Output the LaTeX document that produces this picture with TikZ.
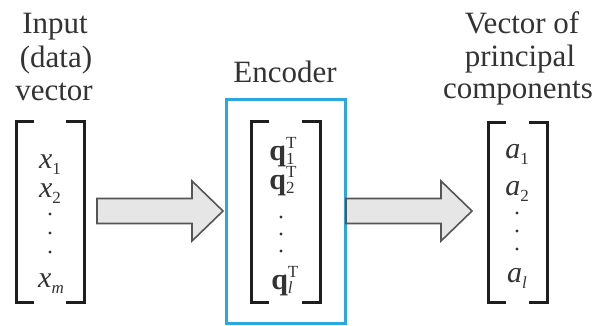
\documentclass[tikz,border=0pt]{standalone}
\usepackage{fontspec}
\setmainfont{Liberation Serif}
\usetikzlibrary{calc}
\definecolor{inkgray}{HTML}{333333}
\definecolor{bracketink}{HTML}{1E1E1E}
\definecolor{encblue}{HTML}{2BA8DE}
\definecolor{arrowfill}{HTML}{E6E6E6}
\definecolor{arrowline}{HTML}{555555}
\tikzset{
  lbl/.style={anchor=base, inner sep=0pt, text=inkgray,
    font=\fontsize{31}{34}\selectfont},
  entry/.style={anchor=base, inner sep=0pt, text=inkgray,
    font=\fontsize{30}{34}\selectfont},
  bracketline/.style={draw=bracketink, line width=3pt, line join=miter},
  vdot/.style={fill=inkgray, draw=none},
  blockarrow/.style={fill=arrowfill, draw=arrowline, line width=1.6pt, line join=miter},
  encbox/.style={draw=encblue, line width=3pt}
}
% small script text
\newcommand{\scr}[1]{{\fontsize{17}{17}\selectfont #1}}
% subscript only
\newcommand{\lowidx}[1]{\raisebox{-6pt}{\scr{#1}}}
% stacked superscript T over a subscript
\newcommand{\tidx}[1]{\makebox[0pt][l]{\raisebox{12pt}{\scr{T}}}\raisebox{-4pt}{\scr{#1}}\hspace{4pt}}
% column vector bracket: #1 left x, #2 right x, #3 top y, #4 bottom y
\newcommand{\colbrackets}[4]{%
  \draw[bracketline] ($(#1,#3)+(18,0)$) -- (#1,#3) -- (#1,#4) -- ($(#1,#4)+(18,0)$);
  \draw[bracketline] ($(#2,#3)+(-18,0)$) -- (#2,#3) -- (#2,#4) -- ($(#2,#4)+(-18,0)$);
}
% three stacked dots centred on x=#1 at heights #2,#3,#4
\newcommand{\stackdots}[4]{%
  \fill[vdot] (#1,#2) circle (1.6);
  \fill[vdot] (#1,#3) circle (1.6);
  \fill[vdot] (#1,#4) circle (1.6);
}
% block arrow from tail coordinate #1 to tip coordinate #2
\newcommand{\fatarrow}[2]{%
  \draw[blockarrow] ($(#1)+(0,-12.5)$) -- ($(#2)+(-31,-12.5)$) -- ($(#2)+(-31,-30)$)
    -- (#2) -- ($(#2)+(-31,30)$) -- ($(#2)+(-31,12.5)$) -- ($(#1)+(0,12.5)$) -- cycle;
}
\begin{document}
\begin{tikzpicture}[x=1pt, y=-1pt]
\useasboundingbox[fill=white] (0,0) rectangle (600,325);

% ---- input vector ----
\node[lbl] (in1) at (55,33) {Input};
\node[lbl] (in2) at (56,67) {(data)};
\node[lbl] (in3) at (54,100) {vector};
\colbrackets{16}{84}{121}{302}
\node[entry] (x1) at (50,168) {\textit{x}\lowidx{1}};
\node[entry] (x2) at (50,197) {\textit{x}\lowidx{2}};
\stackdots{50}{214}{233}{252}
\node[entry] (xm) at (51,287) {\textit{x}\lowidx{\textit{m}}};

% ---- encoder ----
\node[lbl] (enc) at (285,82) {Encoder};
\draw[encbox] (226,99) rectangle (345,323);
\colbrackets{251}{320}{121}{302}
\node[entry] (q1) at (282,160) {\textbf{q}\tidx{1}};
\node[entry] (q2) at (282,189) {\textbf{q}\tidx{2}};
\stackdots{281}{217}{234}{251}
\node[entry] (ql) at (282,289) {\textbf{q}\tidx{\textit{l}}};

% ---- principal components ----
\node[lbl] (out1) at (522,33) {Vector of};
\node[lbl] (out2) at (520,66) {principal};
\node[lbl] (out3) at (518,98) {components};
\colbrackets{488}{547}{122}{302}
\node[entry] (a1) at (517,158) {\textit{a}\lowidx{1}};
\node[entry] (a2) at (517,195) {\textit{a}\lowidx{2}};
\stackdots{517}{213}{231}{249}
\node[entry] (al) at (517,282) {\textit{a}\lowidx{\textit{l}}};

% ---- block arrows ----
\coordinate (inTail) at (97,211);
\coordinate (inTip) at (223,211);
\coordinate (outTail) at (346,211);
\coordinate (outTip) at (472,211);
\fatarrow{inTail}{inTip}
\fatarrow{outTail}{outTip}
\end{tikzpicture}
\end{document}
